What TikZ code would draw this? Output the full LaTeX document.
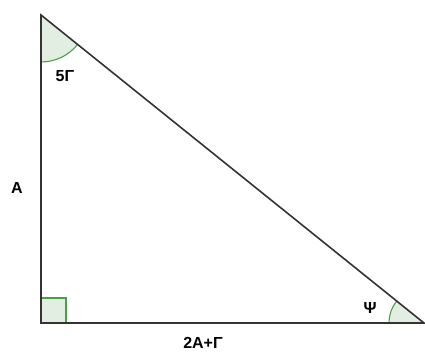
\documentclass[tikz,border=0pt]{standalone}
\usepackage{fontspec}
\setmainfont{Liberation Sans}
\usepackage{tikz}
\usetikzlibrary{positioning, calc}
\usepackage{xcolor}
\definecolor{triLine}{HTML}{333333}
\definecolor{angGreen}{HTML}{4AA04A}
\definecolor{angFill}{HTML}{E2EEE2}

\tikzset{
  side/.style={draw=triLine, line width=1.6pt, line join=miter},
  angmark/.style={draw=angGreen, line width=1.1pt},
  angshade/.style={fill=angFill},
  lbl/.style={font=\fontsize{16}{19}\selectfont\bfseries, text=black, inner sep=0pt}
}

\begin{document}
\begin{tikzpicture}[x=1pt, y=1pt]
        \useasboundingbox (0,0) rectangle (425,351);
        % Ecken
        \coordinate (T) at (41,336);
        \coordinate (C) at (41,28);
        \coordinate (R) at (424,28);
        % Winkel oben (5Gamma)
        \fill[angshade] (T) -- ++(-90:47) arc[start angle=-90, end angle=-38.8, radius=47] -- cycle;
        \draw[angmark] ($(T)+(-90:47)$) arc[start angle=-90, end angle=-38.8, radius=47];
        % Winkel rechts (Psi)
        \fill[angshade] (R) -- ++(180:35) arc[start angle=180, end angle=141.2, radius=35] -- cycle;
        \draw[angmark] ($(R)+(180:35)$) arc[start angle=180, end angle=141.2, radius=35];
        % rechter Winkel
        \filldraw[angshade, angmark] (C) rectangle ++(25,25);
        % Dreieck
        \draw[side] (T) -- (C) -- (R) -- cycle;
        % Beschriftung
        \node[lbl] (g5) at (65,275) {5Γ};
        \node[lbl] (a) at (17,163) {A};
        \node[lbl] (base) at (203,8) {2A+Γ};
        \node[lbl] (psi) at (370,43) {Ψ};
\end{tikzpicture}
\end{document}
